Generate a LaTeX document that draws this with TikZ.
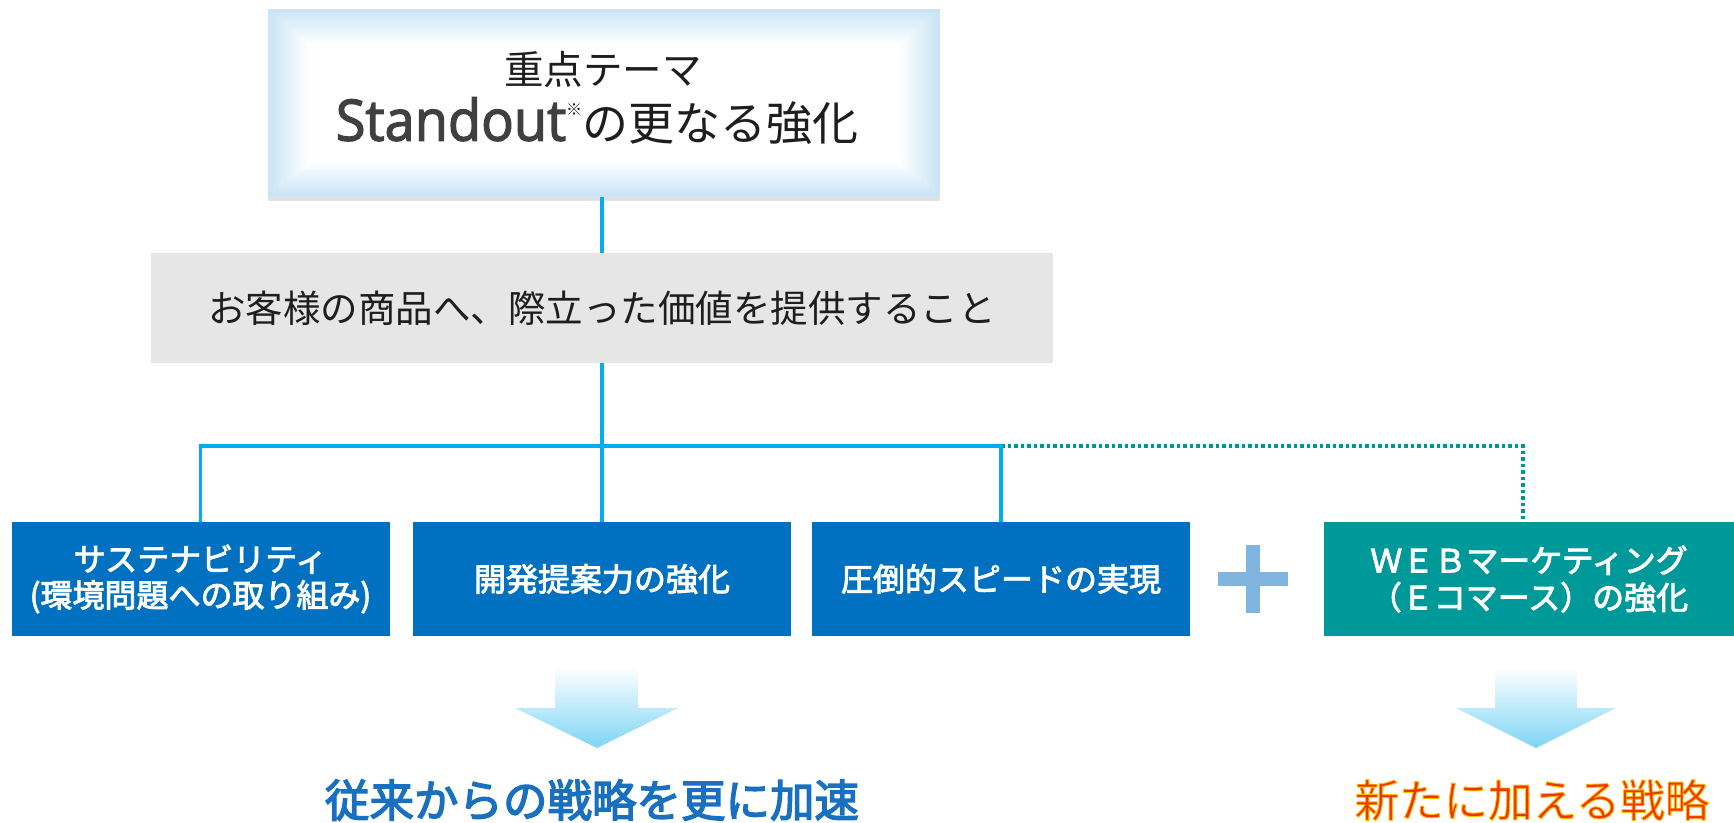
\documentclass[tikz,border=0pt]{standalone}
\usepackage{fontspec}
\setmainfont{Noto Sans CJK JP}
\newfontfamily\latinfont{Open Sans}
\newcommand\embolden[2]{\special{pdf:literal direct 2 Tr #1 w}#2\special{pdf:literal direct 0 Tr}}
\definecolor{glowblue}{RGB}{200,228,246}
\definecolor{conncyan}{RGB}{0,174,239}
\definecolor{dotteal}{RGB}{0,150,145}
\definecolor{boxblue}{RGB}{0,112,192}
\definecolor{boxteal}{RGB}{0,153,153}
\definecolor{graybox}{RGB}{230,230,230}
\definecolor{plusblue}{RGB}{127,181,223}
\definecolor{arrowblue}{RGB}{125,213,245}
\definecolor{textblue}{RGB}{26,112,192}
\definecolor{textorange}{RGB}{240,50,0}
\definecolor{standgray}{RGB}{64,64,64}
\definecolor{darktext}{RGB}{30,30,30}
\definecolor{shadowgray}{RGB}{225,225,225}
\begin{document}
\begin{tikzpicture}[x=1pt,y=-1pt,
  conn/.style={conncyan,line width=3.5pt},
  dotconn/.style={dotteal,line width=3.5pt,dash pattern=on 3.5pt off 3pt},
  topbox/.style={minimum width=672pt,minimum height=188pt,inner sep=0pt,
    path picture={\foreach \i in {0,...,25}{\pgfmathtruncatemacro\p{min(100,\i*4)}
      \fill[white!\p!glowblue] ([xshift=\i*1.6pt,yshift=-\i*1.4pt]path picture bounding box.north west) rectangle ([xshift=-\i*1.6pt,yshift=\i*1.4pt]path picture bounding box.south east);}}},
  goalbox/.style={fill=graybox,minimum width=902pt,minimum height=110pt,inner sep=0pt,text=darktext,font=\fontsize{37.5}{40}\selectfont},
  stratbox/.style={fill=boxblue,text=white,minimum width=378pt,minimum height=114pt,inner sep=0pt,align=center,font=\fontsize{32}{36}\selectfont},
  webbox/.style={fill=boxteal,text=white,minimum width=410pt,minimum height=114pt,inner sep=0pt,align=center,font=\fontsize{32}{37}\selectfont},
  arrowshape/.style={top color=white,bottom color=arrowblue},
  resulttext/.style={inner sep=0pt,font=\fontsize{44.5}{48}\selectfont}
]
\useasboundingbox (0,0) rectangle (1734,822);

% top box
\fill[shadowgray] (268,197) rectangle (940,201);
\node[topbox] (top) at (604,103) {};
\node[inner sep=0pt,text=darktext,font=\fontsize{39.5}{40}\selectfont] (toptitle) at (603,69) {重点テーマ};
\node[inner sep=0pt,text=darktext,font=\fontsize{46}{48}\selectfont] (topmain) at (597,121)
  {{\latinfont\fontsize{57}{58}\selectfont\color{standgray}\scalebox{0.95}[1]{\embolden{1.3}{Standout}}}\raisebox{25pt}{\fontsize{16}{16}\selectfont ※}の更なる強化};

% goal box
\node[goalbox] (goal) at (602,308) {お客様の商品へ、際立った価値を提供すること};

% strategy boxes
\node[stratbox] (b1) at (200.5,579) {\embolden{0.9}{サステナビリティ}\\\embolden{0.9}{(環境問題への取り組み)}};
\node[stratbox] (b2) at (602,579) {\embolden{0.9}{開発提案力の強化}};
\node[stratbox] (b3) at (1001,579) {\embolden{0.9}{圧倒的スピードの実現}};
\node[webbox] (web) at (1529,579) {\embolden{0.9}{ＷＥＢマーケティング}\\\embolden{0.9}{（Ｅコマース）の強化}};

% connectors
\coordinate (jy) at (0,446);
\draw[dotconn] (b3.north |- jy) -| ([xshift=-6pt]web.north);
\draw[conn] (goal.north |- top.south) -- (goal.north);
\draw[conn] (goal.south) -- (b2.north);
\draw[conn] (b1.north) |- (b3.north |- jy) -- (b3.north);

% plus sign
\fill[plusblue] (1218,572) rectangle (1288,586);
\fill[plusblue] (1246,545) rectangle (1260,613);

% arrows
\shade[arrowshape] (555,667) -- (638,667) -- (638,708) -- (678,708) -- (597,748) -- (515,708) -- (555,708) -- cycle;
\shade[arrowshape] (1495,667) -- (1577,667) -- (1577,708) -- (1616,708) -- (1536,748) -- (1456,708) -- (1495,708) -- cycle;

% result texts
\node[resulttext,text=textblue] (accel) at (592,800) {\embolden{1.4}{従来からの戦略を更に加速}};
\node[resulttext,text=textorange] (newstrat) at (1532,800)
  {\special{pdf:literal direct 2 Tr 0.9 w 1 0.75 0 RG}新たに加える戦略\special{pdf:literal direct 0 Tr}};
\end{tikzpicture}
\end{document}
